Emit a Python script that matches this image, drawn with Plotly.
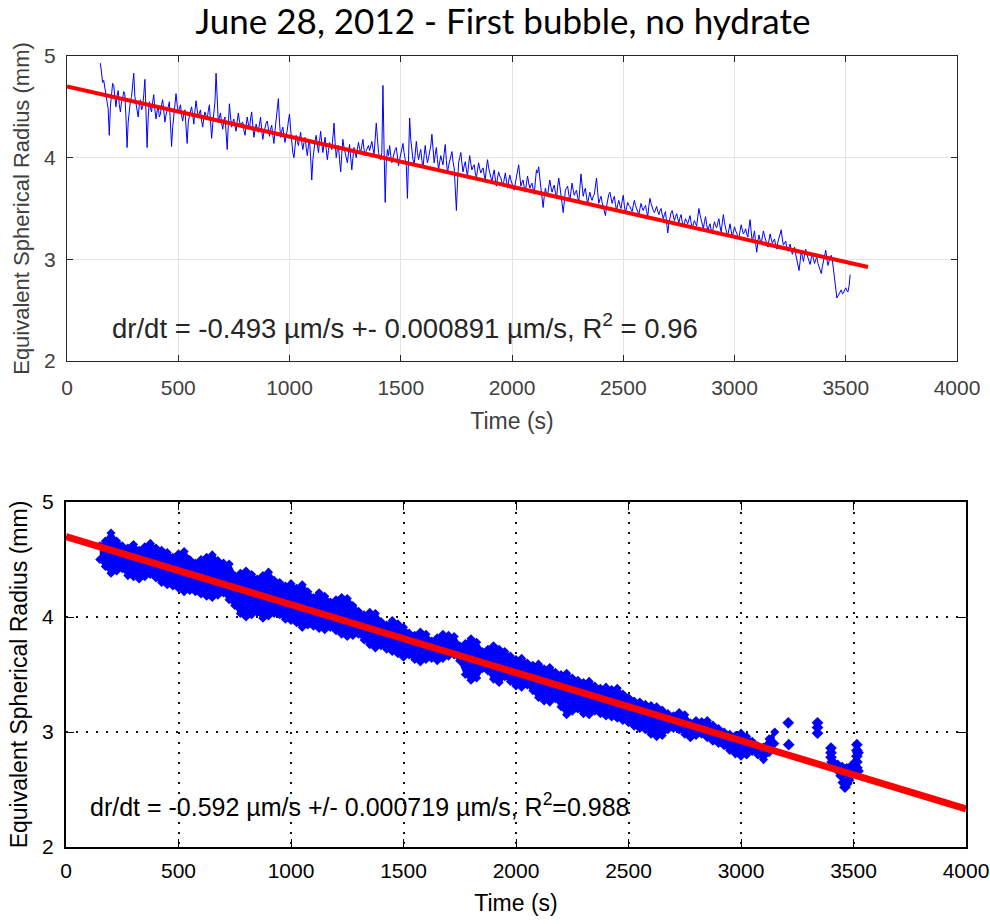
import plotly.graph_objects as go

# ---------------- Top panel data ----------------
# samples at t = 150, 160, 170, ...
top_r_a = [
    4.93, 4.74, 4.70, 4.55, 4.22, 4.64, 4.71, 4.50, 4.66, 4.45,
    4.58, 4.62, 4.10, 4.48, 4.60, 4.83, 4.52, 4.40, 4.57, 4.50,
    4.77, 4.10, 4.55, 4.45, 4.62, 4.38, 4.50, 4.43, 4.57, 4.35,
    4.48, 4.55, 4.11, 4.40, 4.63, 4.45, 4.52, 4.36, 4.47, 4.14,
    4.42, 4.50, 4.33, 4.56, 4.40, 4.47, 4.30, 4.45, 4.38, 4.52,
    4.19, 4.42, 4.83, 4.35, 4.44, 4.28, 4.40, 4.08, 4.53, 4.30,
    4.38, 4.26, 4.44, 4.31, 4.35, 4.22, 4.40, 4.28, 4.45, 4.20,
    4.33, 4.25, 4.40, 4.18, 4.30, 4.36, 4.21, 4.32, 4.14, 4.38,
    4.58, 4.20, 4.30, 4.15, 4.27, 4.43, 4.15, 4.00, 4.22, 4.12,
    4.25, 4.08, 4.20, 4.02, 4.17, 3.78, 4.10, 4.22, 4.05, 4.26,
    4.05, 4.20, 3.98, 4.15, 4.08, 4.34, 4.00, 4.12, 3.86, 4.18,
    4.06, 3.95, 4.13, 3.88, 4.10, 4.00, 4.15, 4.05, 4.18, 4.02,
    4.10, 4.07, 4.16, 4.03, 4.34, 4.05, 3.98, 4.71, 3.56, 4.08,
    4.12, 3.95, 4.05, 4.10, 3.92, 4.03, 4.14, 3.97, 3.60, 4.39,
    4.05, 3.92, 4.16, 3.98, 4.08, 3.90, 4.12, 3.95, 4.05, 4.23,
    3.95, 4.10, 3.88, 4.02, 3.93, 4.13, 3.85, 3.98, 4.06, 3.90,
    3.48, 3.95, 4.05, 3.86, 3.96, 3.82, 4.02, 3.88, 3.93, 3.80,
    3.95, 3.85, 3.90, 3.78, 3.98, 3.84, 3.76, 3.88, 3.72, 3.86,
    3.80, 3.72, 3.85, 3.70, 3.83, 3.75, 3.68, 3.80, 3.93, 3.72,
    3.78, 3.66, 3.82, 3.70, 3.75, 3.64, 3.88, 3.91, 3.72, 3.51,
    3.70, 3.62, 3.78, 3.66, 3.73, 3.60, 3.80, 3.65, 3.46, 3.68,
    3.72, 3.58, 3.75, 3.63, 3.68, 3.56, 3.84, 3.62, 3.70, 3.55,
    3.66, 3.58, 3.64, 3.80, 3.55, 3.62, 3.52, 3.43, 3.60, 3.66,
    3.55, 3.62, 3.48, 3.58, 3.50, 3.63, 3.45, 3.56, 3.52, 3.47,
    3.58, 3.50, 3.44, 3.55, 3.48, 3.53, 3.42, 3.60, 3.51, 3.46,
    3.52, 3.44, 3.50, 3.40, 3.47, 3.26, 3.42, 3.48, 3.38, 3.45,
    3.36, 3.44, 3.32, 3.40, 3.35, 3.43, 3.30, 3.38, 3.33, 3.50,
    3.38, 3.30, 3.42, 3.28, 3.35, 3.25, 3.37, 3.31, 3.40, 3.27,
    3.44, 3.30, 3.24, 3.35, 3.22, 3.32, 3.26, 3.20, 3.34, 3.25,
    3.30, 3.22, 3.39, 3.17, 3.28, 3.07, 3.24, 3.15, 3.28, 3.20,
    3.12, 3.25, 3.16, 3.20, 3.10, 3.22, 3.29, 3.14, 3.18, 3.08,
    3.15, 3.05, 3.12, 3.00, 2.89, 3.08, 2.98, 3.10, 3.02, 2.95,
    3.06, 2.96, 3.02, 2.92, 2.86, 2.98, 3.09, 2.94, 3.02, 2.99,
    2.76, 2.62, 2.66, 2.70, 2.67, 2.72, 2.68, 2.85,
]
# samples at t = 155, 165, 175, ...
top_r_b = [
    4.80, 4.76, 4.60, 4.48, 4.50, 4.73, 4.58, 4.61, 4.52, 4.55,
    4.65, 4.40, 4.35, 4.56, 4.70, 4.60, 4.45, 4.52, 4.47, 4.62,
    4.45, 4.40, 4.49, 4.55, 4.47, 4.46, 4.40, 4.52, 4.46, 4.42,
    4.50, 4.35, 4.30, 4.52, 4.52, 4.48, 4.42, 4.44, 4.30, 4.35,
    4.46, 4.40, 4.46, 4.47, 4.44, 4.36, 4.39, 4.41, 4.46, 4.36,
    4.33, 4.55, 4.50, 4.40, 4.34, 4.37, 4.25, 4.32, 4.40, 4.35,
    4.31, 4.36, 4.36, 4.34, 4.27, 4.32, 4.33, 4.38, 4.31, 4.27,
    4.28, 4.33, 4.27, 4.25, 4.34, 4.27, 4.28, 4.22, 4.27, 4.45,
    4.35, 4.26, 4.22, 4.22, 4.36, 4.28, 4.05, 4.12, 4.16, 4.19,
    4.15, 4.15, 4.10, 4.12, 4.00, 3.98, 4.17, 4.12, 4.16, 4.14,
    4.13, 4.08, 4.07, 4.11, 4.20, 4.15, 4.08, 3.98, 4.04, 4.10,
    4.00, 4.05, 4.00, 4.00, 4.05, 4.08, 4.09, 4.12, 4.08, 4.07,
    4.12, 4.11, 4.09, 4.18, 4.20, 4.01, 4.05, 4.10, 3.95, 4.02,
    4.02, 4.00, 4.08, 4.00, 3.98, 4.09, 4.05, 3.92, 4.02, 4.18,
    3.98, 4.06, 4.05, 4.04, 3.97, 4.02, 4.02, 4.00, 4.12, 4.05,
    4.03, 3.98, 3.96, 3.97, 4.04, 3.97, 3.92, 4.03, 3.96, 3.70,
    3.75, 4.00, 3.94, 3.92, 3.88, 3.93, 3.94, 3.91, 3.85, 3.88,
    3.89, 3.88, 3.83, 3.90, 3.90, 3.79, 3.83, 3.79, 3.80, 3.82,
    3.75, 3.79, 3.77, 3.77, 3.78, 3.71, 3.75, 3.86, 3.82, 3.76,
    3.71, 3.75, 3.75, 3.73, 3.69, 3.77, 3.85, 3.80, 3.62, 3.62,
    3.65, 3.71, 3.71, 3.70, 3.66, 3.71, 3.72, 3.55, 3.58, 3.70,
    3.64, 3.67, 3.68, 3.66, 3.61, 3.70, 3.73, 3.67, 3.61, 3.61,
    3.61, 3.62, 3.72, 3.66, 3.59, 3.56, 3.47, 3.52, 3.64, 3.59,
    3.59, 3.54, 3.54, 3.53, 3.57, 3.53, 3.51, 3.53, 3.49, 3.53,
    3.53, 3.46, 3.50, 3.51, 3.51, 3.47, 3.52, 3.55, 3.48, 3.50,
    3.47, 3.48, 3.44, 3.44, 3.36, 3.35, 3.46, 3.42, 3.42, 3.40,
    3.41, 3.37, 3.36, 3.37, 3.39, 3.36, 3.35, 3.35, 3.42, 3.44,
    3.33, 3.37, 3.34, 3.32, 3.29, 3.32, 3.33, 3.36, 3.32, 3.36,
    3.36, 3.26, 3.30, 3.28, 3.27, 3.28, 3.22, 3.28, 3.29, 3.27,
    3.25, 3.31, 3.27, 3.23, 3.16, 3.17, 3.19, 3.22, 3.23, 3.15,
    3.19, 3.20, 3.18, 3.14, 3.17, 3.26, 3.20, 3.16, 3.12, 3.12,
    3.09, 3.09, 3.05, 2.94, 2.98, 3.03, 3.05, 3.05, 2.98, 3.01,
    3.00, 3.00, 2.96, 2.89, 2.93, 3.04, 3.01, 2.98, 3.04, 2.90,
    2.66, 2.64, 2.69, 2.66, 2.70, 2.69, 2.74,
]
top_t_a = [150 + 10 * i for i in range(len(top_r_a))]
top_t_b = [155 + 10 * i for i in range(len(top_r_b))]
top_pairs = sorted(zip(top_t_a + top_t_b, top_r_a + top_r_b))
top_t = [p[0] for p in top_pairs]
top_r = [p[1] for p in top_pairs]

top_fit_t = [0, 3600]
top_fit_r = [4.70, 2.925]

# ---------------- Bottom panel data ----------------
bot_t = [150 + 25 * i for i in range(121)]
bot_upper = [
    4.62, 4.66, 4.73, 4.66, 4.62, 4.60, 4.63, 4.58, 4.61, 4.64,
    4.60, 4.58, 4.56, 4.52, 4.55, 4.57, 4.50, 4.47, 4.50, 4.52,
    4.54, 4.49, 4.47, 4.46, 4.36, 4.38, 4.40, 4.37, 4.33, 4.36,
    4.39, 4.32, 4.30, 4.27, 4.29, 4.25, 4.28, 4.22, 4.17, 4.21,
    4.18, 4.13, 4.15, 4.17, 4.16, 4.10, 4.05, 4.02, 4.04, 4.03,
    3.96, 3.93, 3.97, 3.94, 3.91, 3.86, 3.84, 3.87, 3.85, 3.79,
    3.82, 3.85, 3.84, 3.83, 3.75, 3.77, 3.81, 3.78, 3.70, 3.72,
    3.75, 3.72, 3.70, 3.66, 3.63, 3.64, 3.60, 3.58, 3.59, 3.55,
    3.56, 3.52, 3.50, 3.51, 3.47, 3.45, 3.43, 3.44, 3.40, 3.38,
    3.39, 3.37, 3.38, 3.33, 3.30, 3.27, 3.26, 3.24, 3.23, 3.22,
    3.19, 3.16, 3.14, 3.17, 3.15, 3.08, 3.10, 3.09, 3.10, 3.06,
    3.03, 3.00, 2.98, 2.97, 2.99, 2.96, 2.92, 2.88, 2.87, 2.94,
    3.00,
]
bot_lower = [
    4.50, 4.44, 4.38, 4.40, 4.42, 4.36, 4.35, 4.33, 4.35, 4.37,
    4.34, 4.30, 4.28, 4.27, 4.25, 4.22, 4.23, 4.22, 4.20, 4.18,
    4.17, 4.19, 4.21, 4.15, 4.10, 4.03, 4.00, 4.02, 4.04, 3.99,
    4.01, 4.03, 4.02, 3.98, 3.97, 3.95, 3.91, 3.93, 3.92, 3.90,
    3.89, 3.91, 3.88, 3.85, 3.83, 3.84, 3.85, 3.80, 3.76, 3.73,
    3.75, 3.72, 3.70, 3.68, 3.65, 3.67, 3.63, 3.61, 3.63, 3.64,
    3.62, 3.64, 3.66, 3.67, 3.62, 3.50, 3.45, 3.47, 3.55, 3.53,
    3.46, 3.43, 3.48, 3.44, 3.40, 3.39, 3.41, 3.36, 3.30, 3.27,
    3.26, 3.29, 3.22, 3.15, 3.18, 3.20, 3.16, 3.15, 3.18, 3.16,
    3.14, 3.13, 3.12, 3.10, 3.08, 3.05, 3.03, 3.02, 2.98, 2.96,
    2.97, 3.02, 3.03, 3.02, 2.98, 2.95, 2.97, 2.98, 2.95, 2.92,
    2.90, 2.88, 2.84, 2.81, 2.79, 2.80, 2.83, 2.80, 2.76, 2.82,
    2.90,
]
bot_out_t = [3210, 3212, 3340, 3340, 3340,
             3400, 3400, 3400, 3405, 3415, 3425, 3435, 3445, 3455, 3462,
             3470, 3478, 3486, 3494, 3500, 3505, 3510, 3515, 3515, 3515,
             3515, 3515, 3520, 3520, 3430, 3450, 3470, 3490]
bot_out_r = [3.08, 2.89, 3.08, 3.04, 2.99,
             2.86, 2.82, 2.78, 2.74, 2.72, 2.70, 2.66, 2.62, 2.56, 2.52,
             2.55, 2.58, 2.62, 2.64, 2.66, 2.70, 2.74, 2.89, 2.84, 2.79,
             2.74, 2.69, 2.82, 2.66, 2.71, 2.69, 2.68, 2.70]

bot_fit_t = [0, 4000]
bot_fit_r = [4.70, 2.332]

x_ticks = [0, 500, 1000, 1500, 2000, 2500, 3000, 3500, 4000]
y_ticks = [2, 3, 4, 5]

BLUE = "#0000ff"
RED = "#ff0000"
W, H = 990, 924

fig = go.Figure()

# top panel
fig.add_trace(go.Scatter(x=top_t, y=top_r, mode="lines",
                         line=dict(color=BLUE, width=1),
                         xaxis="x", yaxis="y", showlegend=False))
fig.add_trace(go.Scatter(x=top_fit_t, y=top_fit_r, mode="lines",
                         line=dict(color=RED, width=4),
                         xaxis="x", yaxis="y", showlegend=False))

# bottom panel
fig.add_trace(go.Scatter(x=bot_t, y=bot_lower, mode="lines+markers",
                         line=dict(color=BLUE, width=3),
                         marker=dict(symbol="diamond", size=7, color=BLUE),
                         xaxis="x2", yaxis="y2", showlegend=False))
fig.add_trace(go.Scatter(x=bot_t, y=bot_upper, mode="lines+markers",
                         line=dict(color=BLUE, width=3),
                         marker=dict(symbol="diamond", size=7, color=BLUE),
                         fill="tonexty", fillcolor=BLUE,
                         xaxis="x2", yaxis="y2", showlegend=False))
fig.add_trace(go.Scatter(x=bot_out_t, y=bot_out_r, mode="markers",
                         marker=dict(symbol="diamond", size=9, color=BLUE),
                         xaxis="x2", yaxis="y2", showlegend=False))
fig.add_trace(go.Scatter(x=bot_fit_t, y=bot_fit_r, mode="lines",
                         line=dict(color=RED, width=7),
                         xaxis="x2", yaxis="y2", showlegend=False))

SANS = "Liberation Sans, Arial, sans-serif"
top_tick_font = dict(family=SANS, size=21, color="#404040")
bot_tick_font = dict(family=SANS, size=21, color="#000000")

top_ax = dict(range=[0, 4000], ticks="inside", ticklen=6, tickcolor="#262626",
              mirror="ticks", showline=True, linecolor="#262626", linewidth=1,
              showgrid=True, gridcolor="#e3e3e3", gridwidth=1, zeroline=False,
              tickfont=top_tick_font, automargin=False)
bot_ax = dict(ticks="inside", ticklen=8, tickcolor="#000000",
              mirror="ticks", showline=True, linecolor="#000000", linewidth=2,
              showgrid=True, gridcolor="#111111", gridwidth=2, griddash="2px,8px",
              zeroline=False, tickfont=bot_tick_font, automargin=False)

fig.update_layout(
    width=W, height=H,
    template="none",
    margin=dict(l=0, r=0, t=0, b=0),
    paper_bgcolor="white", plot_bgcolor="white",
    title=dict(text="June 28, 2012 - First bubble, no hydrate",
               x=503 / W, xanchor="center", y=1 - 22 / H, yanchor="middle",
               font=dict(family="Lato, Open Sans, sans-serif", size=35, color="#000000")),
    xaxis=dict(top_ax, domain=[67 / W, 957 / W], tickvals=x_ticks, anchor="y",
               ticklabelstandoff=8,
               title=dict(text="Time (s)", font=dict(family=SANS, size=23, color="#404040"),
                          standoff=14)),
    yaxis=dict(top_ax, domain=[1 - 361 / H, 1 - 56 / H], range=[2, 5], tickvals=y_ticks,
               anchor="x", ticklabelstandoff=6,
               title=dict(text="Equivalent Spherical Radius (mm)",
                          font=dict(family=SANS, size=22, color="#404040"),
                          standoff=8)),
    xaxis2=dict(bot_ax, domain=[66 / W, 966 / W], range=[0, 4000], tickvals=x_ticks,
                anchor="y2", ticklabelstandoff=4,
                title=dict(text="Time (s)", font=dict(family=SANS, size=23, color="#000"),
                           standoff=14)),
    yaxis2=dict(bot_ax, domain=[1 - 847 / H, 1 - 502 / H], range=[2, 5], tickvals=y_ticks,
                anchor="x2", ticklabelstandoff=6,
                title=dict(text="Equivalent Spherical Radius (mm)",
                           font=dict(family=SANS, size=23, color="#000"),
                           standoff=8)),
    annotations=[
        dict(text="dr/dt = -0.493 \u00b5m/s +- 0.000891 \u00b5m/s, R<sup>2</sup> = 0.96",
             x=110 / W, y=1 - 326 / H, xref="paper", yref="paper",
             xanchor="left", yanchor="middle", showarrow=False,
             font=dict(family=SANS, size=27.5, color="#262626")),
        dict(text="dr/dt = -0.592 \u00b5m/s +/- 0.000719 \u00b5m/s, R<sup>2</sup>=0.988",
             x=88 / W, y=1 - 805 / H, xref="paper", yref="paper",
             xanchor="left", yanchor="middle", showarrow=False,
             font=dict(family=SANS, size=25, color="#000000")),
    ],
)

fig.write_html("out.html")
